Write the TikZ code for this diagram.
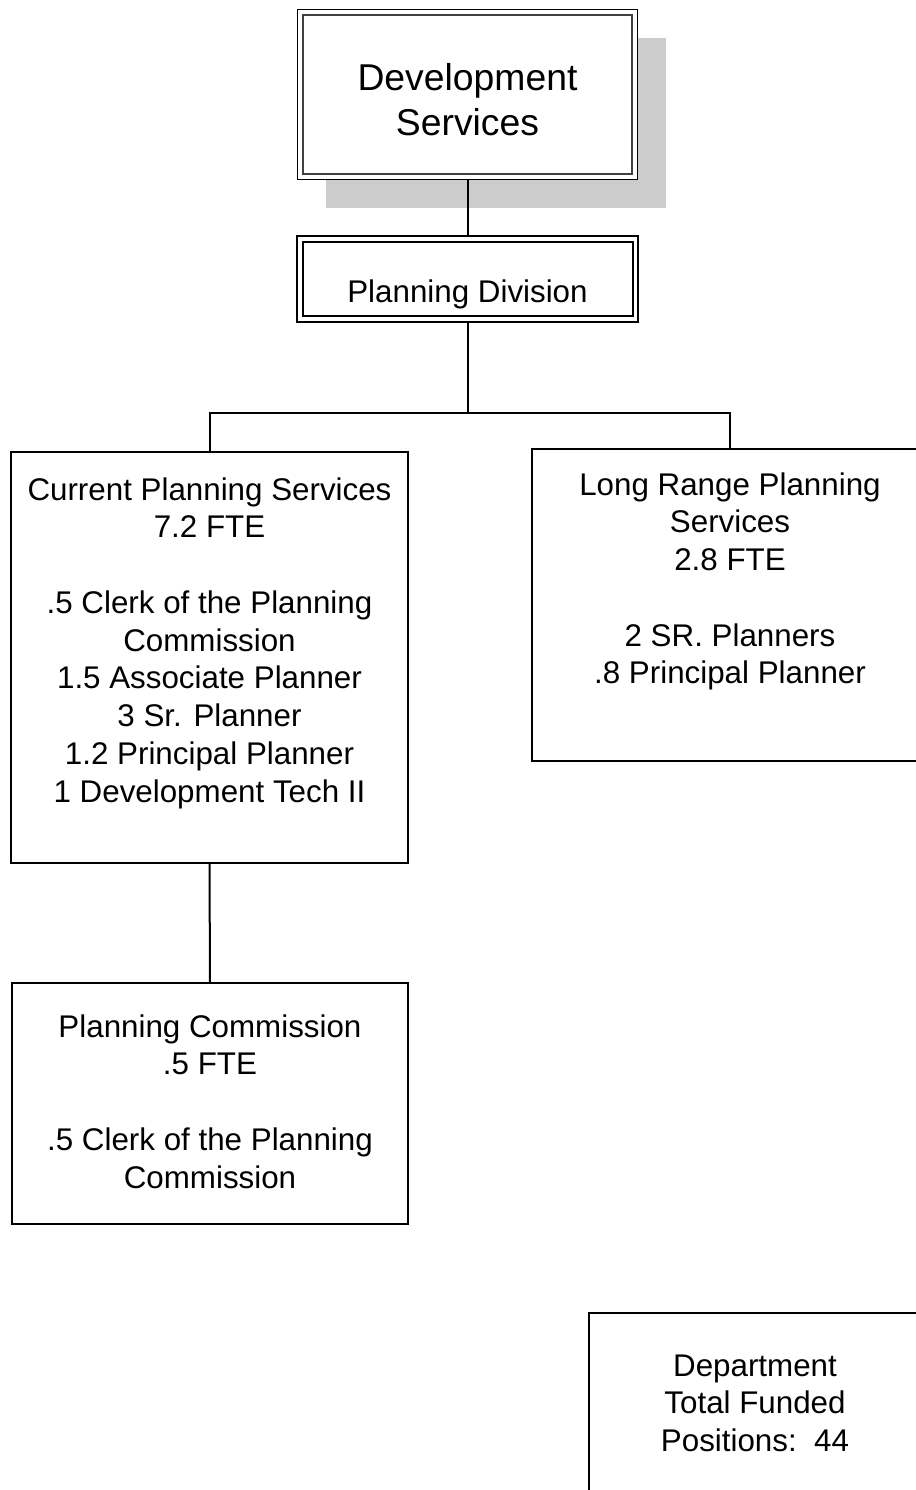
\documentclass[tikz,border=0pt]{standalone}
\usepackage{fontspec}
\setmainfont{Liberation Sans}
\usetikzlibrary{positioning}
\usetikzlibrary{shadows}

\begin{document}
\begin{tikzpicture}[x=0.75pt, y=-0.75pt]
	\tikzset{
		orgbox/.style={rectangle, draw=black, line width=1.5pt, fill=white},
		topbox/.style={rectangle, draw=black, line width=0.75pt, fill=white, minimum width=255pt, minimum height=127.5pt, drop shadow={shadow xshift=21pt, shadow yshift=-21pt, fill=black!20, opacity=1}},
		divbox/.style={rectangle, draw=black, line width=1.5pt, double, double distance=2.6pt, outer sep=2.8pt, minimum width=251.6pt, minimum height=60pt},
		boxtext/.style={align=center, inner sep=0pt, font=\fontsize{23.5}{28.3}\selectfont},
		link/.style={line width=1.5pt},
	}
	\useasboundingbox (0,0) rectangle (916,1490);

	\node[topbox] (devs) at (467.5,94.5) {};
	\draw[line width=1.1pt, black!75] ([shift={(6,6)}]devs.north west) rectangle ([shift={(-6,-6)}]devs.south east);
	\node[boxtext, font=\fontsize{28}{33.75}\selectfont, below=40.3pt of devs.north] (devstext) {Development\\Services};

	\node[divbox] (pd) at (467.5,279) {};
	\node[boxtext, below=32.9pt of pd.north] (pdtext) {Planning Division};

	\node[orgbox, minimum width=297.75pt, minimum height=308.25pt] (cps) at (209.5,657.5) {};
	\node[boxtext, below=19.7pt of cps.north] (cpstext) {Current Planning Services\\7.2 FTE\\ \\.5 Clerk of the Planning\\Commission\\1.5 Associate Planner\\3 Sr. Planner\\1.2 Principal Planner\\1 Development Tech II};

	\node[orgbox, minimum width=297pt, minimum height=234pt] (lrps) at (730,605) {};
	\node[boxtext, below=18.2pt of lrps.north] (lrpstext) {Long Range Planning\\Services\\2.8 FTE\\ \\2 SR. Planners\\.8 Principal Planner};

	\node[orgbox, minimum width=297pt, minimum height=180.75pt] (pc) at (210,1103.5) {};
	\node[boxtext, below=24.2pt of pc.north] (pctext) {Planning Commission\\.5 FTE\\ \\.5 Clerk of the Planning\\Commission};

	\node[orgbox, minimum width=249pt, minimum height=141pt] (tot) at (755,1407) {};
	\node[boxtext, below=31.7pt of tot.north] (tottext) {Department\\Total Funded\\Positions:\ \ 44};

	\draw[link] (devs.south) -- (pd.north);
	\draw[link] (pd.south) -- ++(0,90) -| (cps.north);
	\draw[link] (pd.south) -- ++(0,90) -| (lrps.north);
	\draw[link] (cps.south) -- (pc.north);
\end{tikzpicture}
\end{document}
